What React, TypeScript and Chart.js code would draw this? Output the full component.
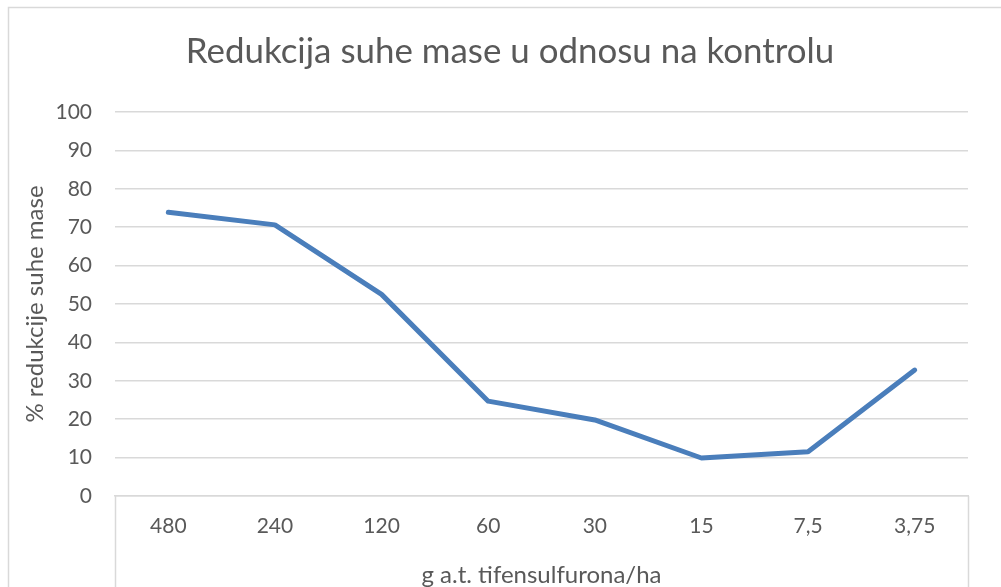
import React, { useEffect, useRef } from "react";
import { Chart, registerables } from "chart.js";

Chart.register(...registerables);

const categories = ["480", "240", "120", "60", "30", "15", "7,5", "3,75"];
const reductionValues = [73.9, 70.6, 52.5, 24.7, 19.8, 9.9, 11.5, 32.8];
const yTicks = [0, 10, 20, 30, 40, 50, 60, 70, 80, 90, 100];

const chartTitle = "Redukcija suhe mase u odnosu na kontrolu";
const yTitle = "% redukcije suhe mase";
const xTitle = "g a.t. tifensulfurona/ha";

const FONT = "Lato, 'Open Sans', sans-serif";
const TEXT = "#595959";
const GRID = "#D9D9D9";

const framePlugin = {
  id: "frame",
  beforeDraw(chart: any) {
    const { ctx, chartArea, width, height } = chart;
    ctx.save();
    ctx.fillStyle = "#ffffff";
    ctx.fillRect(0, 0, width, height);
    ctx.strokeStyle = GRID;
    ctx.lineWidth = 1.5;
    ctx.strokeRect(8.5, 7.5, width + 50, height + 50);
    ctx.beginPath();
    ctx.moveTo(Math.round(chartArea.left) + 0.5, chartArea.bottom);
    ctx.lineTo(Math.round(chartArea.left) + 0.5, height);
    ctx.moveTo(Math.round(chartArea.right) + 0.5, chartArea.bottom);
    ctx.lineTo(Math.round(chartArea.right) + 0.5, height);
    ctx.lineWidth = 1.5;
    ctx.stroke();
    ctx.restore();
  },
};

export default function App() {
  const ref = useRef<HTMLCanvasElement>(null);
  useEffect(() => {
    if (!ref.current) return;
    const chart = new Chart(ref.current, {
      type: "line",
      data: {
        labels: categories,
        datasets: [
          {
            data: reductionValues,
            borderColor: "#4A7EBB",
            borderWidth: 5,
            pointRadius: 0,
            borderCapStyle: "round",
            borderJoinStyle: "round",
            tension: 0,
          },
        ],
      },
      plugins: [framePlugin],
      options: {
        responsive: false,
        animation: false,
        layout: { padding: { left: 52, right: 33, top: 0, bottom: 0 } },
        plugins: {
          legend: { display: false },
          tooltip: { enabled: false },
          title: {
            display: true,
            text: chartTitle,
            color: TEXT,
            font: { family: FONT, size: 34.9, weight: "normal", lineHeight: 1.2 },
            padding: { top: 31, bottom: 39.1 },
          },
        },
        scales: {
          x: {
            offset: true,
            grid: { display: false, drawTicks: false },
            border: { display: true, color: GRID, width: 1.5 },
            ticks: {
              color: TEXT,
              font: { family: FONT, size: 21 },
              padding: 18,
              maxRotation: 0,
              autoSkip: false,
            },
            title: {
              display: true,
              text: xTitle,
              color: TEXT,
              font: { family: FONT, size: 24 },
              padding: { top: 0, bottom: -3 },
            },
            afterFit: (s: any) => {
              s.height = 91;
            },
          },
          y: {
            min: 0,
            max: 100,
            afterBuildTicks: (s: any) => {
              s.ticks = yTicks.map((v) => ({ value: v }));
            },
            grid: { color: GRID, lineWidth: 1.5, drawTicks: false },
            border: { display: false },
            ticks: {
              color: TEXT,
              font: { family: FONT, size: 21 },
              padding: 23,
            },
            title: {
              display: true,
              text: yTitle,
              color: TEXT,
              font: { family: FONT, size: 24 },
              padding: { top: -31.4, bottom: 0 },
            },
            afterFit: (s: any) => {
              s.width = 63;
            },
          },
        },
      },
    } as any);
    return () => chart.destroy();
  }, []);
  return (
    <div style={{ position: "fixed", left: 0, top: 0, width: 1001, height: 587 }}>
      <canvas ref={ref} width={1001} height={587} />
    </div>
  );
}
